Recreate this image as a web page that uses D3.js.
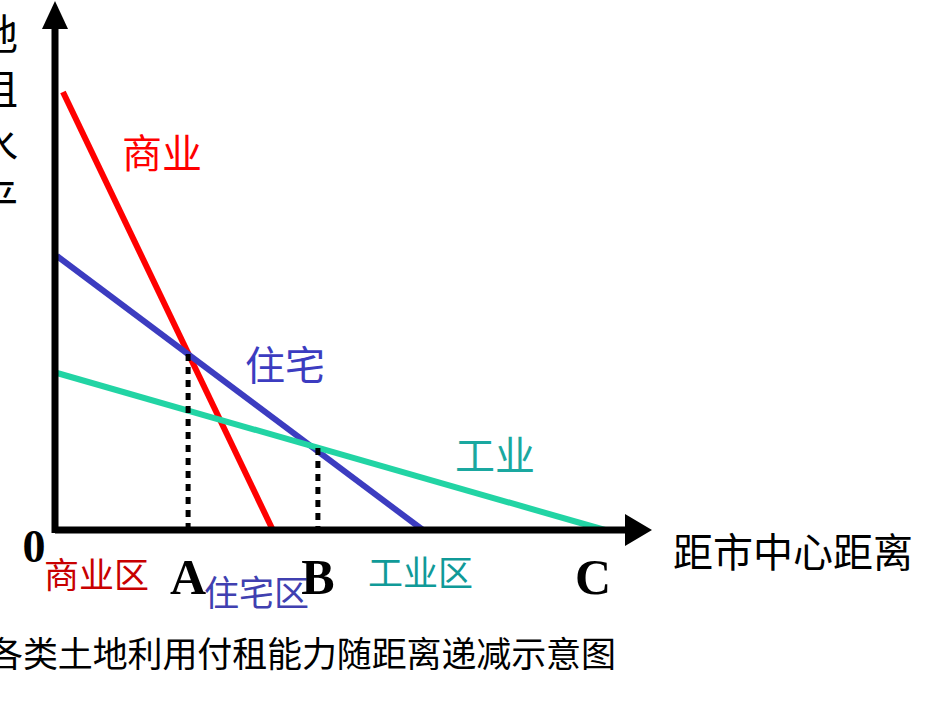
<!DOCTYPE html><html><head><meta charset="utf-8"><script src="https://cdn.jsdelivr.net/npm/d3@7"></script>
<style>body{margin:0;background:#fff}</style></head><body><svg id="c" width="950" height="713"></svg>
<script>
const seriesNames=["商业","住宅","工业"];
const seriesLines=[[[1.45,87.6],[39.6,0]],[[0.36,54.8],[66.9,0]],[[0.36,31.4],[100,0]]];
const points=[{name:"A",x:24.2,y:35.2},{name:"B",x:47.8,y:16.4}];
const zoneLabels=["商业区","住宅区","工业区"];
const svg=d3.select("#c");
const x=d3.scaleLinear().domain([0,100]).range([55,605]);
const y=d3.scaleLinear().domain([0,100]).range([530,30]);
const lineCols=["#ff0000","#3c3cc0","#22d4a4"];
const labCols=["#ff0000","#3c3cc0","#1aa8a0"];
const zoneCols=["#c80000","#4040b0","#109a98"];
const F="'Noto Sans CJK SC'";
seriesLines.forEach((l,i)=>svg.append("path").attr("d",d3.line().x(d=>x(d[0])).y(d=>y(d[1]))(l)).attr("stroke",lineCols[i]).attr("stroke-width",6).attr("fill","none"));
points.forEach(p=>svg.append("line").attr("x1",x(p.x)).attr("x2",x(p.x)).attr("y1",y(p.y)).attr("y2",y(0)).attr("stroke","#000").attr("stroke-width",5).attr("stroke-dasharray","7,6"));
svg.append("line").attr("x1",55).attr("x2",630).attr("y1",530).attr("y2",530).attr("stroke","#000").attr("stroke-width",7);
svg.append("path").attr("d","M652,530L625,514L625,546Z");
svg.append("line").attr("x1",55).attr("x2",55).attr("y1",533).attr("y2",25).attr("stroke","#000").attr("stroke-width",7);
svg.append("path").attr("d","M55,1L42,29L68,29Z");
const labPos=[[122,168],[245,380],[455,470]];
seriesNames.forEach((n,i)=>svg.append("text").attr("x",labPos[i][0]).attr("y",labPos[i][1]).attr("font-family",F).attr("font-size",40).attr("fill",labCols[i]).text(n));
const zonePos=[[44,588],[204,606],[368,586]];
zoneLabels.forEach((n,i)=>svg.append("text").attr("x",zonePos[i][0]).attr("y",zonePos[i][1]).attr("font-family",F).attr("font-size",35).attr("fill",zoneCols[i]).text(n));
const serif="'Liberation Serif',serif";
[["A",x(points[0].x)],["B",x(points[1].x)],["C",x(100)-12]].forEach(d=>svg.append("text").attr("x",d[1]).attr("y",594).attr("text-anchor","middle").attr("font-family",serif).attr("font-weight","bold").attr("font-size",50).text(d[0]));
svg.append("text").attr("x",34).attr("y",562).attr("text-anchor","middle").attr("font-family",serif).attr("font-weight","bold").attr("font-size",46).text("0");
svg.append("text").attr("x",673).attr("y",567).attr("font-family",F).attr("font-size",40).text("距市中心距离");
svg.append("text").attr("x",-12).attr("y",667).attr("font-family",F).attr("font-size",35).attr("textLength",628).text("各类土地利用付租能力随距离递减示意图");
["地","租","水","平"].forEach((c,i)=>svg.append("text").attr("x",-3).attr("y",50+i*55).attr("text-anchor","middle").attr("font-family",F).attr("font-size",42).text(c));
</script></body></html>
